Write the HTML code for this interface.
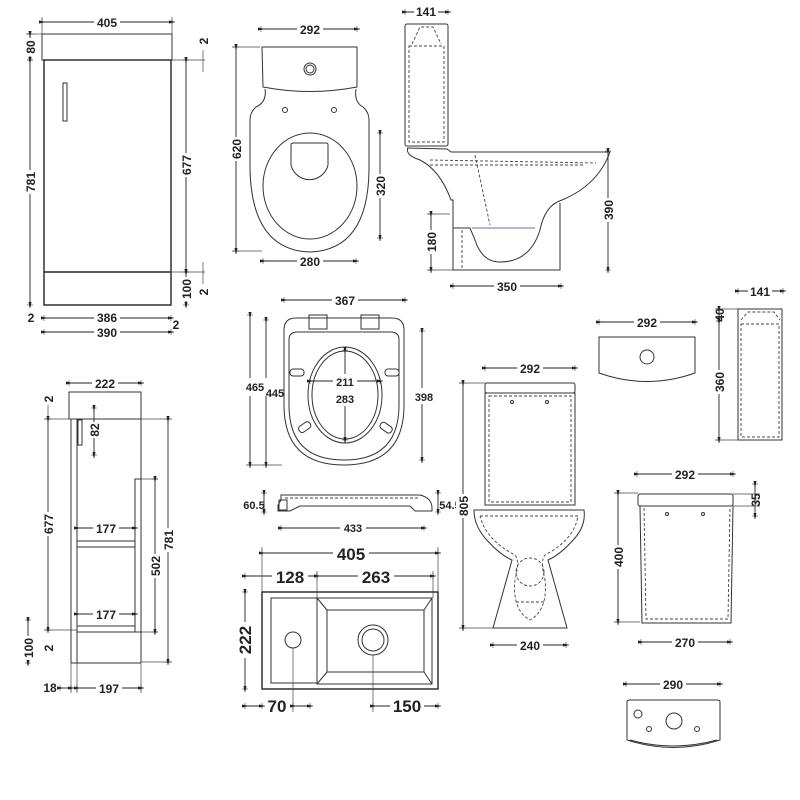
<!DOCTYPE html>
<html><head><meta charset="utf-8"><style>
html,body{margin:0;padding:0;background:#fff}
svg{display:block}
text{font-family:"Liberation Sans",sans-serif;font-size:12px;font-weight:bold;fill:#222}
text.b{font-size:17px}
text.s{font-size:11px}
.l{stroke:#222;stroke-width:1.4;fill:none}
.t{stroke:#333;stroke-width:1;fill:none}
.d{stroke:#444;stroke-width:0.9;fill:none;stroke-dasharray:3 2}
.dm{stroke:#222;stroke-width:0.9;fill:none;marker-start:url(#a);marker-end:url(#a)}
.e{stroke:#444;stroke-width:0.7}
</style></head><body>
<svg width="800" height="800" viewBox="0 0 800 800" xmlns="http://www.w3.org/2000/svg">
<defs><marker id="a" viewBox="0 0 10 10" refX="5" refY="5" markerWidth="7" markerHeight="7" orient="auto"><path d="M0,3 L10,5 L0,7 M5,0 V10" fill="#222" stroke="#222" stroke-width="0.8"/></marker></defs>
<rect width="800" height="800" fill="#fff"/>

<!-- Vanity front -->
<rect class="t" x="42" y="34" width="130" height="26"/>
<rect class="l" x="44" y="60" width="127" height="245"/>
<line class="l" x1="44" y1="272" x2="171" y2="272"/>
<rect class="t" x="63" y="83" width="4" height="38"/>
<line class="dm" x1="42" y1="22" x2="172" y2="22"/><rect x="94" y="15" width="26" height="14" fill="#fff"/><text x="107" y="27" text-anchor="middle">405</text>
<line class="e" x1="42" y1="17" x2="42" y2="34"/><line class="e" x1="172" y1="17" x2="172" y2="34"/>
<line class="dm" x1="30" y1="34" x2="30" y2="60"/><line class="e" x1="26" y1="34" x2="42" y2="34"/>
<line class="dm" x1="30" y1="60" x2="30" y2="305"/>
<rect x="23" y="38" width="14" height="18" fill="#fff"/><text transform="translate(35,47) rotate(-90)" text-anchor="middle">80</text>
<rect x="22" y="170" width="14" height="24" fill="#fff"/><text transform="translate(35,182) rotate(-90)" text-anchor="middle">781</text>
<line class="e" x1="171" y1="60" x2="205" y2="60"/><line class="e" x1="171" y1="272" x2="205" y2="272"/>
<line class="dm" x1="186" y1="60" x2="186" y2="272"/><rect x="179" y="153" width="14" height="24" fill="#fff"/><text transform="translate(191,165) rotate(-90)" text-anchor="middle">677</text>
<line class="dm" x1="186" y1="272" x2="186" y2="305"/><rect x="179" y="277" width="14" height="24" fill="#fff"/><text transform="translate(191,289) rotate(-90)" text-anchor="middle">100</text>
<line class="e" x1="203" y1="50" x2="203" y2="72"/><text transform="translate(208,41) rotate(-90)" text-anchor="middle">2</text>
<line class="e" x1="203" y1="262" x2="203" y2="284"/><text transform="translate(208,292) rotate(-90)" text-anchor="middle">2</text>
<line class="dm" x1="44" y1="318" x2="171" y2="318"/><rect x="94" y="311" width="26" height="14" fill="#fff"/><text x="107" y="322" text-anchor="middle">386</text>
<line class="dm" x1="44" y1="332" x2="171" y2="332"/><rect x="94" y="325" width="26" height="14" fill="#fff"/><text x="107" y="337" text-anchor="middle">390</text>
<text x="31" y="322" text-anchor="middle">2</text><text x="176" y="329" text-anchor="middle">2</text>

<!-- Toilet top view -->
<path class="t" d="M262,47 H357 V87 Q310,96 263,87 Z"/>
<circle class="t" cx="310" cy="69" r="6"/><circle class="t" cx="310" cy="69" r="4"/>
<path class="t" d="M265,89 Q267,102 256,107 Q250,112 250,120 V170 Q252,250 310,252 Q368,250 369,170 V120 Q369,112 363,107 Q354,102 356,89"/>
<ellipse class="t" cx="310" cy="186" rx="47" ry="53"/>
<path class="t" d="M291,145 Q291,143 294,143 H326 Q328,143 328,145 V165 A19,19 0 0 1 291,165 Z"/>
<circle class="t" cx="285" cy="110" r="2.5"/><circle class="t" cx="334" cy="110" r="2.5"/>
<line class="dm" x1="261" y1="29" x2="357" y2="29"/><rect x="297" y="22" width="26" height="14" fill="#fff"/><text x="310" y="34" text-anchor="middle">292</text>
<line class="dm" x1="236" y1="47" x2="236" y2="251"/><rect x="229" y="137" width="14" height="24" fill="#fff"/><text transform="translate(241,149) rotate(-90)" text-anchor="middle">620</text>
<line class="e" x1="232" y1="47" x2="260" y2="47"/><line class="e" x1="232" y1="251" x2="262" y2="251"/>
<line class="dm" x1="380" y1="133" x2="380" y2="238"/><rect x="373" y="174" width="14" height="24" fill="#fff"/><text transform="translate(385,186) rotate(-90)" text-anchor="middle">320</text>
<line class="dm" x1="263" y1="261" x2="356" y2="261"/><rect x="297" y="254" width="26" height="14" fill="#fff"/><text x="310" y="266" text-anchor="middle">280</text>

<!-- Toilet side view -->
<rect class="t" x="405" y="24" width="43" height="122" rx="2"/>
<path class="d" d="M409,46 H444 V142 H409 Z"/>
<path class="d" d="M412,44 L420,27 H433 L441,44"/>
<path class="t" d="M407,148 L447,149 L451,152 H610 Q598,185 562,200 Q545,205 540,230 Q530,262 500,262 Q482,262 475,240 L470,228 H453 V200 H451 Q440,170 420,160 Q405,155 408,148"/>
<path class="d" d="M430,160 L596,163"/><path class="d" d="M430,165 H585"/>
<path class="d" d="M475,155 L490,225"/>
<line x1="472" y1="228" x2="535" y2="228" stroke="#6070c0" stroke-width="1"/>
<path class="t" d="M453,228 V270 H560 V203"/>
<path class="d" d="M462,230 V268"/>
<line class="dm" x1="608" y1="151" x2="608" y2="270"/><rect x="601" y="198" width="14" height="24" fill="#fff"/><text transform="translate(613,210) rotate(-90)" text-anchor="middle">390</text>
<line class="dm" x1="431" y1="214" x2="431" y2="270"/><rect x="424" y="230" width="14" height="24" fill="#fff"/><text transform="translate(436,242) rotate(-90)" text-anchor="middle">180</text>
<line class="e" x1="427" y1="214" x2="450" y2="214"/><line class="e" x1="427" y1="270" x2="453" y2="270"/>
<line class="dm" x1="453" y1="286" x2="561" y2="286"/><rect x="494" y="279" width="26" height="14" fill="#fff"/><text x="507" y="291" text-anchor="middle">350</text>
<line class="dm" x1="405" y1="12" x2="448" y2="12"/><rect x="414" y="5" width="24" height="14" fill="#fff"/><text x="426" y="16" text-anchor="middle">141</text>

<!-- Seat top -->
<path class="t" d="M284,330 Q284,318 296,318 H392 Q404,318 404,330 V405 Q404,465 344,465 Q284,465 284,405 Z"/>
<path class="t" d="M289,340 Q289,332 297,332 H391 Q399,332 399,340 V405 Q399,460 344,460 Q289,460 289,405 Z"/>
<ellipse class="t" cx="345" cy="395" rx="37" ry="48"/><ellipse class="t" cx="345" cy="395" rx="33" ry="44"/>
<rect class="t" x="309" y="315" width="18" height="14"/><rect class="t" x="361" y="315" width="18" height="14"/>
<rect class="t" x="290" y="369" width="14" height="7" rx="3"/><rect class="t" x="385" y="369" width="14" height="7" rx="3"/>
<rect class="t" x="298" y="424" width="13" height="7" rx="3" transform="rotate(-35 304 427)"/><rect class="t" x="380" y="424" width="13" height="7" rx="3" transform="rotate(35 386 427)"/>
<line class="dm" x1="284" y1="300" x2="405" y2="300"/><rect x="332" y="293" width="26" height="14" fill="#fff"/><text x="345" y="305" text-anchor="middle">367</text>
<line class="dm" x1="250" y1="315" x2="250" y2="465"/><line class="dm" x1="266" y1="320" x2="266" y2="465"/>
<line class="e" x1="246" y1="465" x2="282" y2="465"/>
<rect x="242" y="378" width="38" height="18" fill="#fff"/>
<text class="s" x="255" y="391" text-anchor="middle">465</text><text class="s" x="275" y="397" text-anchor="middle">445</text>
<line class="dm" x1="422" y1="331" x2="422" y2="460"/><rect x="412" y="388" width="26" height="16" fill="#fff"/><text class="s" x="424" y="401" text-anchor="middle">398</text>
<line class="dm" x1="310" y1="381" x2="380" y2="381"/><line class="dm" x1="345" y1="350" x2="345" y2="440"/>
<rect x="333" y="374" width="24" height="32" fill="#fff"/>
<text class="s" x="345" y="386" text-anchor="middle">211</text><text class="s" x="345" y="403" text-anchor="middle">283</text>

<!-- Seat side -->
<path class="t" d="M281,495 H420 Q432,498 432,508 V511 H415 L410,506 H300 L290,511 H278 V505 L281,500 Z"/>
<path class="d" d="M285,498 H418"/>
<rect class="t" x="279" y="500" width="8" height="10"/>
<line class="dm" x1="264" y1="493" x2="264" y2="512"/><text class="s" x="254" y="509" text-anchor="middle">60.5</text>
<line class="dm" x1="438" y1="493" x2="438" y2="512"/><text class="s" x="450" y="509" text-anchor="middle">54.5</text>
<line class="dm" x1="281" y1="528" x2="424" y2="528"/><rect x="340" y="521" width="26" height="14" fill="#fff"/><text class="s" x="353" y="532" text-anchor="middle">433</text>

<!-- Basin -->
<rect class="l" x="262" y="592" width="176" height="97"/>
<rect class="t" x="271" y="598" width="46" height="85"/>
<rect class="t" x="317" y="598" width="115" height="86"/>
<rect class="t" x="327" y="610" width="97" height="62"/>
<line class="t" x1="317" y1="598" x2="327" y2="610"/><line class="t" x1="432" y1="598" x2="424" y2="610"/>
<line class="t" x1="317" y1="684" x2="327" y2="672"/><line class="t" x1="432" y1="684" x2="424" y2="672"/>
<circle class="t" cx="293" cy="640" r="8"/><circle class="t" cx="373" cy="640" r="15"/><circle class="t" cx="373" cy="640" r="11"/>
<line class="dm" x1="262" y1="553" x2="438" y2="553"/><rect x="333" y="543" width="36" height="18" fill="#fff"/><text class="b" x="351" y="560" text-anchor="middle">405</text>
<line class="dm" x1="245" y1="576" x2="317" y2="576"/><rect x="272" y="566" width="36" height="18" fill="#fff"/><text class="b" x="290" y="583" text-anchor="middle">128</text>
<line class="dm" x1="317" y1="576" x2="433" y2="576"/><rect x="358" y="566" width="36" height="18" fill="#fff"/><text class="b" x="376" y="583" text-anchor="middle">263</text>
<line class="e" x1="262" y1="547" x2="262" y2="592"/><line class="e" x1="438" y1="547" x2="438" y2="592"/><line class="e" x1="317" y1="571" x2="317" y2="598"/><line class="e" x1="433" y1="571" x2="433" y2="598"/>
<line class="dm" x1="245" y1="592" x2="245" y2="689"/><rect x="236" y="622" width="18" height="36" fill="#fff"/><text class="b" transform="translate(251,640) rotate(-90)" text-anchor="middle">222</text>
<line class="e" x1="293" y1="648" x2="293" y2="712"/><line class="e" x1="373" y1="655" x2="373" y2="712"/>
<line class="dm" x1="245" y1="706" x2="262" y2="706"/><line class="dm" x1="293" y1="706" x2="310" y2="706"/><text class="b" x="277" y="712" text-anchor="middle">70</text>
<line class="dm" x1="373" y1="706" x2="438" y2="706"/><rect x="390" y="696" width="34" height="18" fill="#fff"/><text class="b" x="407" y="712" text-anchor="middle">150</text>

<!-- Vanity side -->
<rect class="t" x="69" y="392" width="72" height="27"/>
<line class="t" x1="71" y1="419" x2="71" y2="663"/><line class="t" x1="77" y1="419" x2="77" y2="663"/><line class="t" x1="141" y1="419" x2="141" y2="663"/>
<line class="t" x1="71" y1="663" x2="141" y2="663"/>
<rect class="t" x="78" y="420" width="4" height="25"/>
<rect class="t" x="77" y="541" width="58" height="6"/><rect class="t" x="77" y="626" width="58" height="6"/>
<rect class="t" x="135" y="479" width="6" height="153"/>
<line class="dm" x1="69" y1="383" x2="141" y2="383"/><rect x="92" y="376" width="26" height="14" fill="#fff"/><text x="105" y="388" text-anchor="middle">222</text>
<line class="e" x1="44" y1="419" x2="71" y2="419"/><line class="e" x1="44" y1="630" x2="77" y2="630"/>
<line class="dm" x1="48" y1="419" x2="48" y2="630"/><rect x="41" y="512" width="14" height="24" fill="#fff"/><text transform="translate(53,524) rotate(-90)" text-anchor="middle">677</text>
<text transform="translate(53,399) rotate(-90)" text-anchor="middle">2</text><line class="e" x1="48" y1="405" x2="48" y2="419"/>
<text transform="translate(53,648) rotate(-90)" text-anchor="middle">2</text>
<line class="dm" x1="28" y1="620" x2="28" y2="663"/><rect x="21" y="636" width="14" height="24" fill="#fff"/><text transform="translate(33,648) rotate(-90)" text-anchor="middle">100</text>
<line class="dm" x1="94" y1="408" x2="94" y2="455"/><rect x="87" y="422" width="14" height="16" fill="#fff"/><text transform="translate(99,430) rotate(-90)" text-anchor="middle">82</text>
<line class="dm" x1="77" y1="528" x2="135" y2="528"/><rect x="93" y="521" width="26" height="14" fill="#fff"/><text x="106" y="533" text-anchor="middle">177</text>
<line class="dm" x1="77" y1="614" x2="135" y2="614"/><rect x="93" y="607" width="26" height="14" fill="#fff"/><text x="106" y="619" text-anchor="middle">177</text>
<line class="e" x1="141" y1="479" x2="158" y2="479"/><line class="e" x1="141" y1="632" x2="158" y2="632"/>
<line class="dm" x1="155" y1="479" x2="155" y2="632"/><rect x="148" y="554" width="14" height="24" fill="#fff"/><text transform="translate(160,566) rotate(-90)" text-anchor="middle">502</text>
<line class="e" x1="141" y1="419" x2="172" y2="419"/><line class="e" x1="141" y1="662" x2="172" y2="662"/>
<line class="dm" x1="168" y1="419" x2="168" y2="662"/><rect x="161" y="528" width="14" height="24" fill="#fff"/><text transform="translate(173,540) rotate(-90)" text-anchor="middle">781</text>
<line class="e" x1="71" y1="663" x2="71" y2="693"/><line class="e" x1="77" y1="663" x2="77" y2="693"/><line class="e" x1="141" y1="663" x2="141" y2="693"/>
<line class="dm" x1="60" y1="688" x2="71" y2="688"/><text x="50" y="692" text-anchor="middle">18</text>
<line class="dm" x1="77" y1="688" x2="141" y2="688"/><rect x="96" y="681" width="26" height="14" fill="#fff"/><text x="109" y="693" text-anchor="middle">197</text>

<!-- Toilet front -->
<rect class="t" x="485" y="383" width="90" height="10" rx="2"/>
<rect class="t" x="485" y="393" width="90" height="112"/>
<rect class="d" x="489" y="396" width="82" height="106"/>
<circle class="t" cx="512" cy="402" r="1.5"/><circle class="t" cx="547" cy="402" r="1.5"/>
<path class="t" d="M474,510 H584 Q586,525 575,538 Q560,555 548,560 L567,628 H493 L512,560 Q500,555 485,538 Q474,525 474,510 Z"/>
<path class="d" d="M480,516 H578 Q574,540 545,555 Q540,560 545,580 Q548,610 530,620 Q512,610 515,580 Q520,560 515,555 Q486,540 480,516"/>
<circle class="d" cx="530" cy="572" r="14"/>
<line class="d" x1="516" y1="602" x2="544" y2="602"/>
<line class="dm" x1="485" y1="368" x2="575" y2="368"/><rect x="517" y="361" width="26" height="14" fill="#fff"/><text x="530" y="373" text-anchor="middle">292</text>
<line class="dm" x1="463" y1="383" x2="463" y2="628"/><rect x="456" y="494" width="14" height="24" fill="#fff"/><text transform="translate(468,506) rotate(-90)" text-anchor="middle">805</text>
<line class="e" x1="459" y1="383" x2="485" y2="383"/><line class="e" x1="459" y1="628" x2="493" y2="628"/>
<line class="dm" x1="493" y1="645" x2="566" y2="645"/><rect x="517" y="638" width="26" height="14" fill="#fff"/><text x="530" y="650" text-anchor="middle">240</text>

<!-- Cistern top right -->
<path class="t" d="M599,337 H695 V373 Q647,390 599,373 Z"/>
<circle class="t" cx="647" cy="357" r="7"/>
<line class="dm" x1="599" y1="322" x2="695" y2="322"/><rect x="634" y="315" width="26" height="14" fill="#fff"/><text x="647" y="327" text-anchor="middle">292</text>
<!-- Cistern side right -->
<rect class="t" x="738" y="309" width="44" height="131"/>
<path class="d" d="M741,320 L748,312 H774 L780,320"/><rect class="d" x="741" y="324" width="38" height="113"/>
<line class="dm" x1="738" y1="291" x2="783" y2="291"/><rect x="748" y="284" width="24" height="14" fill="#fff"/><text x="760" y="296" text-anchor="middle">141</text>
<line class="dm" x1="719" y1="309" x2="719" y2="321"/><text transform="translate(724,315) rotate(-90)" text-anchor="middle">40</text>
<line class="dm" x1="719" y1="321" x2="719" y2="440"/><rect x="712" y="370" width="14" height="24" fill="#fff"/><text transform="translate(724,382) rotate(-90)" text-anchor="middle">360</text>
<line class="e" x1="715" y1="309" x2="738" y2="309"/><line class="e" x1="715" y1="440" x2="738" y2="440"/>
<!-- Cistern front right -->
<rect class="t" x="638" y="494" width="95" height="12" rx="2"/>
<path class="t" d="M640,506 L642,623 H731 L733,506"/>
<path class="d" d="M644,508 L646,619 H728 L730,508"/>
<circle class="t" cx="667" cy="514" r="1.5"/><circle class="t" cx="703" cy="514" r="1.5"/>
<line class="dm" x1="637" y1="474" x2="733" y2="474"/><rect x="672" y="467" width="26" height="14" fill="#fff"/><text x="685" y="479" text-anchor="middle">292</text>
<line class="dm" x1="618" y1="493" x2="618" y2="622"/><rect x="611" y="545" width="14" height="24" fill="#fff"/><text transform="translate(623,557) rotate(-90)" text-anchor="middle">400</text>
<line class="e" x1="614" y1="493" x2="638" y2="493"/><line class="e" x1="614" y1="622" x2="640" y2="622"/>
<line class="dm" x1="755" y1="484" x2="755" y2="516"/><line class="e" x1="733" y1="494" x2="760" y2="494"/><line class="e" x1="733" y1="506" x2="760" y2="506"/>
<text transform="translate(760,500) rotate(-90)" text-anchor="middle">35</text>
<line class="dm" x1="641" y1="642" x2="730" y2="642"/><rect x="672" y="635" width="26" height="14" fill="#fff"/><text x="685" y="647" text-anchor="middle">270</text>
<!-- Cistern underside -->
<path class="t" d="M627,702 Q627,700 630,700 H717 Q720,700 720,702 V740 Q673,755 627,740 Z"/>
<path class="t" d="M630,740 Q673,752 717,740"/>
<circle class="t" cx="638" cy="714" r="4"/><circle class="t" cx="674" cy="721" r="8"/>
<circle class="t" cx="649" cy="729" r="2.5"/><circle class="t" cx="697" cy="729" r="2.5"/>
<line class="dm" x1="626" y1="684" x2="720" y2="684"/><rect x="660" y="677" width="26" height="14" fill="#fff"/><text x="673" y="689" text-anchor="middle">290</text>
</svg>
</body></html>
